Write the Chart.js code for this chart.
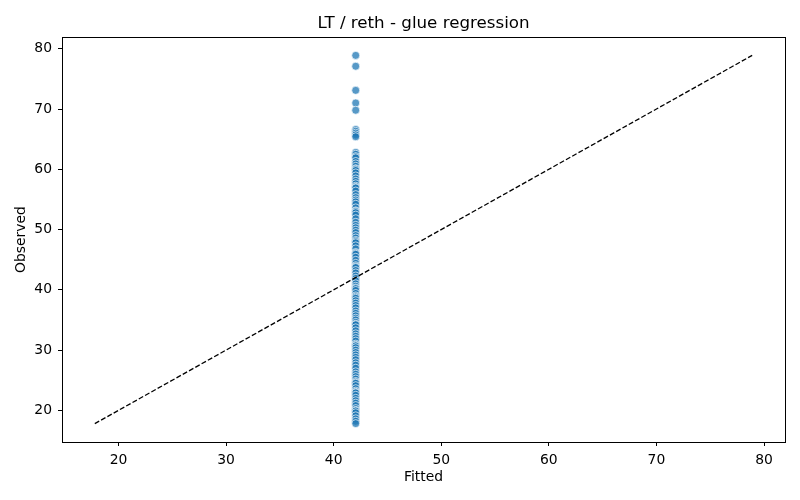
<!DOCTYPE html>
<html>
<head>
<meta charset="utf-8">
<script src="https://cdn.jsdelivr.net/npm/chart.js@4.4.1/dist/chart.umd.min.js"></script>
<style>
  html, body { margin: 0; padding: 0; background: #fff; }
  #wrap { width: 800px; height: 500px; }
</style>
</head>
<body>
<div id="wrap"><canvas id="grafico" width="800" height="500"></canvas></div>
<script>
// Datos del gráfico
const titulo = 'LT / reth - glue regression';
const etiquetaX = 'Fitted';
const etiquetaY = 'Observed';
const valorAjustado = 42.05;   // el modelo predice lo mismo para todos
const observados = [
    78.9, 77.1, 73.1, 71.0, 69.8,
    66.6, 66.3, 66.0, 65.7, 65.4,
    62.8, 62.5, 62.1, 61.9, 61.3, 60.9, 60.5, 60.1, 60.0, 59.8, 59.4, 58.9, 58.4, 58.0,
    57.6, 57.2, 57.0, 56.9, 56.4, 55.8, 55.3, 54.9, 54.6, 54.2, 53.6, 53.1, 53.0, 52.8,
    52.4, 51.8, 51.2, 50.7, 50.3, 49.9, 49.5, 49.0, 48.6, 48.2, 48.0, 47.8, 47.3, 46.8,
    46.2, 46.0, 45.9, 45.4, 44.9, 44.4, 44.0, 43.8, 43.7, 43.2, 42.8, 42.3, 41.9, 41.5,
    41.0, 40.6, 40.3, 40.2, 39.9, 39.4, 39.0, 38.8, 38.6, 38.2, 37.8, 37.4, 37.0, 36.5,
    36.1, 35.7, 35.3, 35.0, 34.6, 34.3, 34.2, 33.7, 33.2, 32.7, 32.3, 31.9, 31.5, 31.0,
    30.8, 30.7, 30.4, 30.0, 29.6, 29.2, 28.8, 28.4, 27.9, 27.5, 27.0, 26.4, 26.0, 25.6,
    25.2, 24.8, 24.6, 24.5, 24.1, 23.6, 23.2, 23.0, 22.9, 22.5, 22.0, 21.6, 21.2, 20.8,
    20.3, 20.0, 19.9, 19.6, 19.1, 18.6, 18.2, 17.8
];
const ticksX = [20, 30, 40, 50, 60, 70, 80];
const ticksY = [20, 30, 40, 50, 60, 70, 80];
const rangoEjes = [14.75, 81.95];

Chart.defaults.font.family = "'DejaVu Sans', sans-serif";
Chart.defaults.color = '#000';

// linea de referencia y = x entre el mínimo y el máximo observado
const minObs = Math.min(...observados);
const maxObs = Math.max(...observados);

// Marco completo (4 lados) y título centrado sobre el área del gráfico
const marcoPlugin = {
    id: 'marco',
    afterDraw(chart) {
        const { ctx, chartArea: a } = chart;
        ctx.save();
        ctx.strokeStyle = '#000';
        ctx.lineWidth = 1;
        ctx.strokeRect(a.left + 0.5, a.top + 0.5, a.right - a.left, a.bottom - a.top);
        ctx.fillStyle = '#000';
        ctx.font = "16.7px 'DejaVu Sans', sans-serif";
        ctx.textAlign = 'center';
        ctx.textBaseline = 'alphabetic';
        ctx.fillText(titulo, (a.left + a.right) / 2, 27.5);
        ctx.restore();
    }
};

const ejeComun = (ticks, titulo, padTitulo) => ({
    type: 'linear',
    min: rangoEjes[0],
    max: rangoEjes[1],
    afterBuildTicks: s => { s.ticks = ticks.map(v => ({ value: v })); },
    ticks: { color: '#000', font: { size: 13.9 }, padding: 6, includeBounds: false },
    grid: { drawOnChartArea: false, color: '#000', tickColor: '#000', tickLength: 4 },
    border: { display: false },
    title: { display: true, text: titulo, color: '#000', font: { size: 13.9 }, padding: padTitulo }
});

const ctx = document.getElementById('grafico').getContext('2d');
new Chart(ctx, {
    type: 'scatter',
    data: {
        datasets: [
            {
                type: 'line',
                data: [{ x: minObs, y: minObs }, { x: maxObs, y: maxObs }],
                borderColor: '#000',
                borderWidth: 1.3,
                borderDash: [5, 2.2],
                pointRadius: 0,
                fill: false,
                order: 0
            },
            {
                type: 'scatter',
                data: observados.map(y => ({ x: valorAjustado, y: y })),
                backgroundColor: 'rgba(31, 119, 180, 0.75)',
                borderColor: 'rgba(255, 255, 255, 0.75)',
                borderWidth: 0.9,
                pointRadius: 4,
                order: 1
            }
        ]
    },
    options: {
        responsive: false,
        animation: false,
        layout: { padding: { top: 37, right: 15, left: 0, bottom: 0 } },
        plugins: {
            legend: { display: false },
            title: { display: false },
            tooltip: { enabled: false }
        },
        scales: {
            x: Object.assign(ejeComun(ticksX, etiquetaX, { top: 0, bottom: 14 }), {
                position: 'bottom',
                afterFit: s => { s.height = 58; }
            }),
            y: Object.assign(ejeComun(ticksY, etiquetaY, { top: 13, bottom: 0 }), {
                position: 'left',
                afterFit: s => { s.width = 62; }
            })
        }
    },
    plugins: [marcoPlugin]
});
</script>
</body>
</html>
